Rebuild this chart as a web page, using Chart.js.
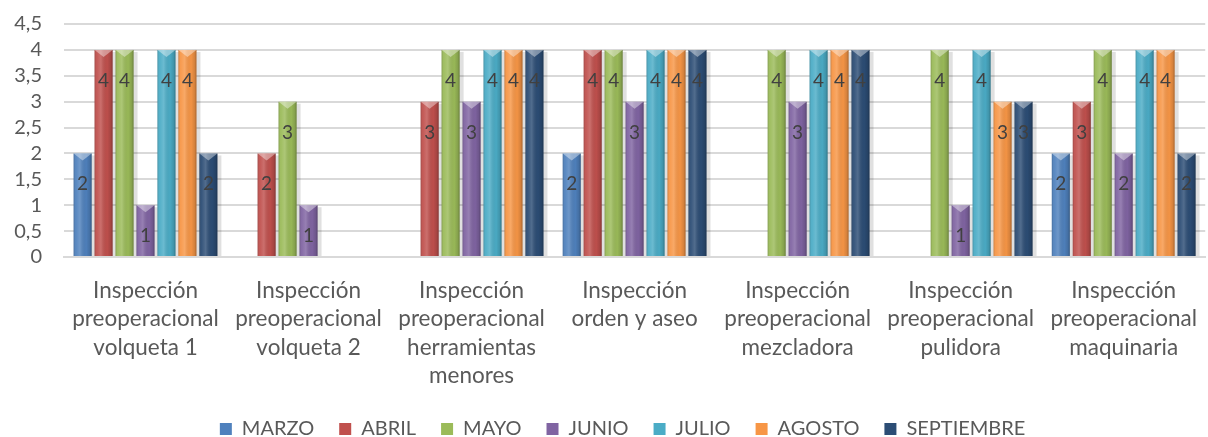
<!DOCTYPE html>
<html>
<head>
<meta charset="utf-8">
<script src="https://cdn.jsdelivr.net/npm/chart.js@4/dist/chart.umd.min.js"></script>
<style>
  html, body { margin: 0; padding: 0; background: #ffffff; }
  #wrap { width: 1208px; height: 437px; position: relative; }
</style>
</head>
<body>
<div id="wrap"><canvas id="c"></canvas></div>
<script>
const categories = [
  ["Inspección", "preoperacional", "volqueta 1"],
  ["Inspección", "preoperacional", "volqueta 2"],
  ["Inspección", "preoperacional", "herramientas", "menores"],
  ["Inspección", "orden y aseo"],
  ["Inspección", "preoperacional", "mezcladora"],
  ["Inspección", "preoperacional", "pulidora"],
  ["Inspección", "preoperacional", "maquinaria"]
];
const seriesNames = ["MARZO", "ABRIL", "MAYO", "JUNIO", "JULIO", "AGOSTO", "SEPTIEMBRE"];
const marzo      = [2, null, null, 2, null, null, 2];
const abril      = [4, 2, 3, 4, null, null, 3];
const mayo       = [4, 3, 4, 4, 4, 4, 4];
const junio      = [1, 1, 3, 3, 3, 1, 2];
const julio      = [4, null, 4, 4, 4, 4, 4];
const agosto     = [4, null, 4, 4, 4, 3, 4];
const septiembre = [2, null, 4, 4, 4, 3, 2];
const yTicks = [0, 0.5, 1, 1.5, 2, 2.5, 3, 3.5, 4, 4.5];

const seriesValues = [marzo, abril, mayo, junio, julio, agosto, septiembre];
const seriesColors = ["#4F81BD", "#C0504D", "#9BBB59", "#8064A2", "#4BACC6", "#F79646", "#2C4D75"];

const FONT = "Lato, 'Open Sans', sans-serif";
const TXT = "#595959";

const legendShift = {
  id: 'legendShift',
  afterLayout(chart) {
    if (chart.legend) { chart.legend.left -= 12; chart.legend.right -= 12; }
  }
};

const bevelPlugin = {
  id: 'bevel',
  beforeDatasetsDraw(chart) {
    const ctx = chart.ctx;
    ctx.save();
    chart.data.datasets.forEach((ds, di) => {
      const meta = chart.getDatasetMeta(di);
      meta.data.forEach((bar, i) => {
        if (ds.data[i] == null) return;
        const w = bar.width, l = bar.x - w / 2;
        ctx.fillStyle = 'rgba(0,0,0,0.12)';
        ctx.fillRect(l + 2, bar.y + 2, w + 2, bar.base - bar.y - 2);
      });
    });
    ctx.restore();
  },
  afterDatasetsDraw(chart) {
    const ctx = chart.ctx;
    ctx.save();
    chart.data.datasets.forEach((ds, di) => {
      const meta = chart.getDatasetMeta(di);
      meta.data.forEach((bar, i) => {
        if (ds.data[i] == null) return;
        const w = bar.width, l = bar.x - w / 2, r = bar.x + w / 2;
        const g = ctx.createLinearGradient(l, 0, r, 0);
        g.addColorStop(0, 'rgba(0,0,0,0.2)');
        g.addColorStop(0.12, 'rgba(255,255,255,0.05)');
        g.addColorStop(0.35, 'rgba(255,255,255,0.18)');
        g.addColorStop(0.7, 'rgba(0,0,0,0.02)');
        g.addColorStop(0.9, 'rgba(0,0,0,0.14)');
        g.addColorStop(1, 'rgba(0,0,0,0.32)');
        ctx.fillStyle = g;
        ctx.fillRect(l, bar.y, w, bar.base - bar.y);
        // top bevel
        ctx.beginPath();
        ctx.moveTo(l, bar.y);
        ctx.lineTo(r, bar.y);
        ctx.lineTo(bar.x, bar.y + 7);
        ctx.closePath();
        ctx.fillStyle = 'rgba(255,255,255,0.4)';
        ctx.fill();
        // labels
        const ys = chart.scales.y;
        const v = ds.data[i];
        ctx.fillStyle = '#404040';
        ctx.font = "19px " + FONT;
        ctx.textAlign = 'center';
        ctx.textBaseline = 'middle';
        ctx.fillText(String(v), bar.x, ys.getPixelForValue(v - 0.5) + 5);
      });
    });
    ctx.restore();
  }
};

new Chart(document.getElementById('c'), {
  type: 'bar',
  data: {
    labels: categories,
    datasets: seriesNames.map((n, k) => ({
      label: n,
      data: seriesValues[k],
      backgroundColor: seriesColors[k],
      borderWidth: 0,
      categoryPercentage: 0.9,
      barPercentage: 0.86
    }))
  },
  options: {
    responsive: true,
    maintainAspectRatio: false,
    animation: false,
    layout: { padding: { top: 24, right: 0, left: 0, bottom: -12 } },
    plugins: {
      tooltip: { enabled: false },
      legend: {
        position: 'bottom',
        fullSize: false,
        labels: {
          color: TXT,
          font: { family: FONT, size: 20 },
          boxWidth: 12,
          boxHeight: 12,
          padding: 25
        }
      }
    },
    scales: {
      x: {
        grid: { display: false },
        border: { display: true, color: '#D9D9D9', width: 2 },
        ticks: {
          color: TXT,
          font: { family: FONT, size: 22.5, lineHeight: 1.267 },
          maxRotation: 0,
          autoSkip: false,
          padding: 11
        },
        afterFit(s) { s.height = 137; }
      },
      y: {
        min: 0,
        max: 4.5,
        afterBuildTicks(s) { s.ticks = yTicks.map(v => ({ value: v })); },
        grid: { color: '#D9D9D9', lineWidth: 2, drawTicks: true, tickLength: 22, tickColor: 'rgba(0,0,0,0)' },
        border: { display: false },
        ticks: {
          color: TXT,
          font: { family: FONT, size: 20 },
          padding: 0,
          autoSkip: false,
          stepSize: 0.5,
          callback: v => String(v).replace('.', ',')
        },
        afterFit(s) { s.width = 64; }
      }
    }
  },
  plugins: [bevelPlugin, legendShift]
});
</script>
</body>
</html>
